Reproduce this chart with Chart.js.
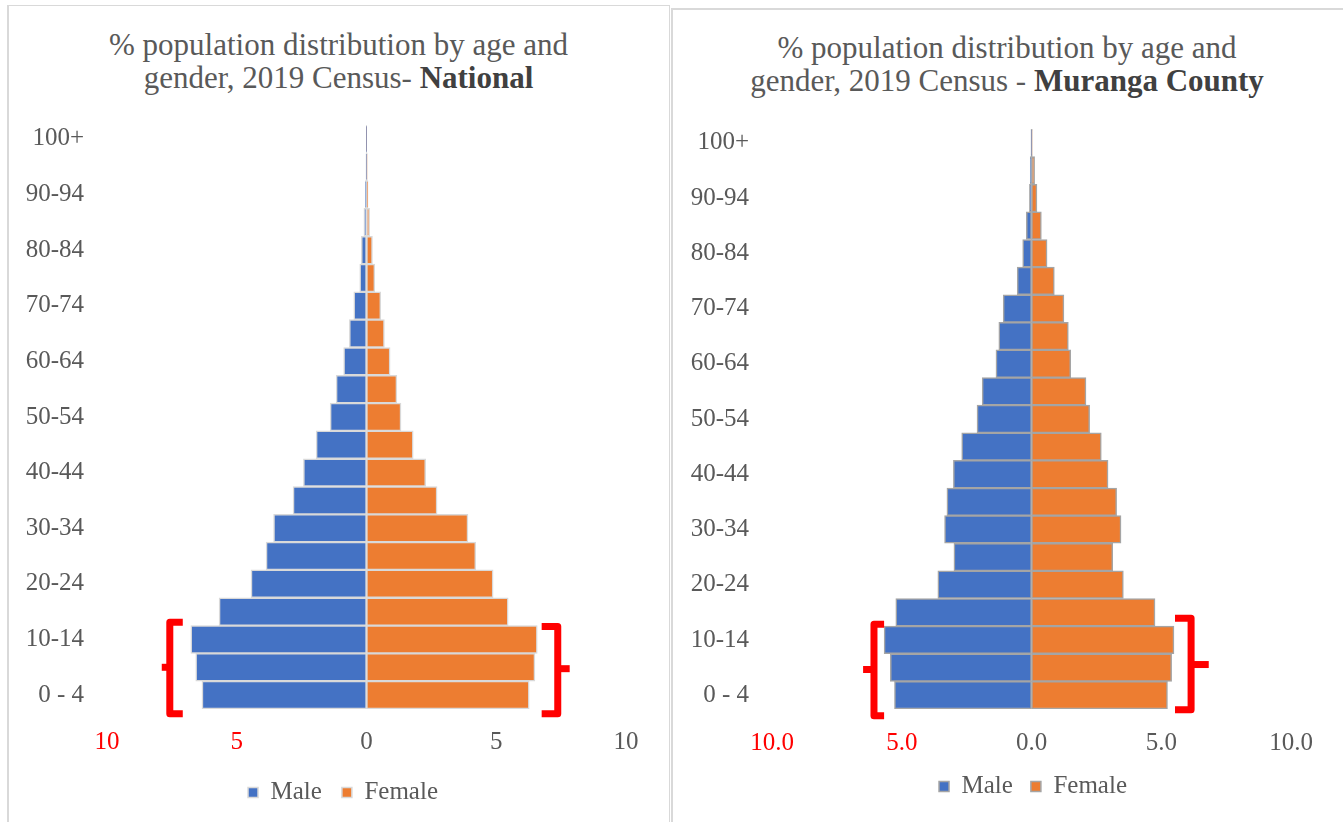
<!DOCTYPE html>
<html lang="en">
<head>
    <meta charset="UTF-8">
    <title>Population distribution by age and gender, 2019 Census</title>
    <script src="https://cdn.jsdelivr.net/npm/chart.js"></script>
    <style>
        body { margin: 0; background: #fff; width: 1343px; height: 822px; overflow: hidden; position: relative; font-family: 'Liberation Serif', serif; }
        .panel { position: absolute; box-sizing: border-box; border-style: solid; border-color: #d9d9d9; background: #fff; }
        #panelL { left: 7px; top: 5px; width: 663px; height: 840px; border-width: 1px 1px 0 2px; }
        #panelR { left: 671px; top: 8px; width: 690px; height: 840px; border-width: 2px 0 0 2px; }
        .title { position: absolute; text-align: center; color: #595959; font-size: 31px; line-height: 33px; }
        .title b { color: #404040; }
        .wrap { position: absolute; }
    </style>
</head>
<body>
    <div class="panel" id="panelL"></div>
    <div class="panel" id="panelR"></div>

    <div class="title" style="left:7px; width:663px; top:28px;">% population distribution by age and<br>gender, 2019 Census- <b>National</b></div>
    <div class="title" style="left:671px; width:672px; top:31px;">% population distribution by age and<br>gender, 2019 Census - <b>Muranga County</b></div>

    <!-- canvases run a bit wider than the panels so the legends sit where they do in the original -->
    <div class="wrap" style="left:8px; top:110px; width:670px; height:722px;"><canvas id="nationalChart"></canvas></div>
    <div class="wrap" style="left:672px; top:110px; width:722px; height:722px;"><canvas id="murangaChart"></canvas></div>

    <script>
        // age groups, bottom (youngest) to top
        const ageGroups = ['0 - 4', '5-9', '10-14', '15-19', '20-24', '25-29', '30-34', '35-39', '40-44', '45-49',
            '50-54', '55-59', '60-64', '65-69', '70-74', '75-79', '80-84', '85-89', '90-94', '95-99', '100+'];

        // National, % of population
        const nationalMale   = [6.34, 6.58, 6.77, 5.68, 4.45, 3.87, 3.58, 2.83, 2.43, 1.94, 1.40, 1.17, 0.88, 0.66, 0.49, 0.26, 0.20, 0.10, 0.05, 0.02, 0.01];
        const nationalFemale = [6.27, 6.49, 6.58, 5.46, 4.88, 4.21, 3.91, 2.72, 2.28, 1.80, 1.33, 1.17, 0.91, 0.69, 0.55, 0.32, 0.23, 0.12, 0.06, 0.03, 0.01];

        // Muranga County, % of population
        const murangaMale   = [5.28, 5.44, 5.68, 5.23, 3.61, 2.99, 3.35, 3.26, 3.01, 2.69, 2.10, 1.90, 1.37, 1.26, 1.09, 0.55, 0.34, 0.20, 0.08, 0.05, 0.02];
        const murangaFemale = [5.24, 5.40, 5.49, 4.76, 3.54, 3.13, 3.45, 3.28, 2.95, 2.69, 2.24, 2.10, 1.51, 1.42, 1.25, 0.88, 0.60, 0.38, 0.21, 0.12, 0.03];

        const xTicks = [-10, -5, 0, 5, 10];

        const FONT = "'Liberation Serif', serif";
        const GREY = '#595959';

        // red brackets around the 0-14 groups (x in axis units, y in category index)
        const bracePlugin = {
            id: 'braces',
            afterDatasetsDraw(chart, args, opts) {
                const xs = chart.scales.x, ys = chart.scales.y, ctx = chart.ctx;
                ctx.save();
                ctx.strokeStyle = '#ff0000';
                ctx.lineWidth = 7;
                ctx.lineJoin = 'round';
                opts.list.forEach(b => {
                    const vx = xs.getPixelForValue(b.x);
                    const hx = xs.getPixelForValue(b.hook);
                    const nx = xs.getPixelForValue(b.nub);
                    const top = ys.getPixelForValue(b.top);
                    const bottom = ys.getPixelForValue(b.bottom);
                    const mid = ys.getPixelForValue(b.mid);
                    ctx.beginPath();
                    ctx.moveTo(hx, top);
                    ctx.lineTo(vx, top);
                    ctx.lineTo(vx, bottom);
                    ctx.lineTo(hx, bottom);
                    ctx.stroke();
                    ctx.beginPath();
                    ctx.moveTo(vx, mid);
                    ctx.lineTo(nx, mid);
                    ctx.stroke();
                });
                ctx.restore();
            }
        };

        function makePyramid(id, male, female, cfg) {
            return new Chart(document.getElementById(id), {
                type: 'bar',
                data: {
                    labels: ageGroups,
                    datasets: [
                        { label: 'Male', data: male.map(v => -v), backgroundColor: '#4472c4', borderColor: cfg.edge, borderWidth: 1.5, borderSkipped: false },
                        { label: 'Female', data: female, backgroundColor: '#ed7d31', borderColor: cfg.edge, borderWidth: 1.5, borderSkipped: false }
                    ]
                },
                options: {
                    indexAxis: 'y',
                    responsive: true,
                    maintainAspectRatio: false,
                    animation: false,
                    layout: { padding: { top: cfg.top, right: 0, bottom: cfg.bottom, left: 0 } },
                    datasets: { bar: { barPercentage: 1, categoryPercentage: 1 } },
                    scales: {
                        x: {
                            stacked: true,
                            min: -10, max: 10,
                            afterBuildTicks: s => { s.ticks = xTicks.map(v => ({ value: v })); },
                            afterFit: s => { s.height = cfg.xHeight; s.paddingLeft = 0; s.paddingRight = cfg.right; },
                            grid: { display: false, drawTicks: false },
                            border: { display: false },
                            ticks: {
                                padding: cfg.xPad,
                                font: { family: FONT, size: 25 },
                                color: c => (c.tick && c.tick.value < 0) ? '#ff0000' : GREY,
                                callback: v => cfg.decimals ? Math.abs(v).toFixed(1) : Math.abs(v)
                            }
                        },
                        y: {
                            stacked: true,
                            reverse: true,
                            afterFit: s => { s.width = cfg.left; s.paddingTop = 0; s.paddingBottom = 0; },
                            grid: { display: false, drawTicks: false },
                            border: { display: false },
                            ticks: {
                                autoSkip: false,
                                padding: 23,
                                font: { family: FONT, size: 25 },
                                color: GREY,
                                callback: (v, i) => i % 2 === 0 ? ageGroups[i] : ''
                            }
                        }
                    },
                    plugins: {
                        tooltip: { enabled: false },
                        legend: {
                            position: 'bottom',
                            labels: { boxWidth: 10, boxHeight: 10, padding: cfg.legendPad, color: GREY, font: { family: FONT, size: 25 } }
                        },
                        braces: { list: cfg.braces }
                    }
                },
                plugins: [bracePlugin]
            });
        }

        makePyramid('nationalChart', nationalMale, nationalFemale, {
            edge: '#d9d9d9', left: 99, right: 52, top: 15, bottom: 17, xHeight: 51, xPad: 18, legendPad: 20, decimals: false,
            braces: [
                { x: -7.58, hook: -7.08, nub: -7.89, top: 2.62, bottom: -0.67, mid: 1.0 },
                { x: 7.37, hook: 6.75, nub: 7.83, top: 2.47, bottom: -0.67, mid: 0.95 }
            ]
        });

        makePyramid('murangaChart', murangaMale, murangaFemale, {
            edge: '#a5a5a5', left: 100, right: 103, top: 19, bottom: 23, xHeight: 47, xPad: 19, legendPad: 18, decimals: true,
            braces: [
                { x: -6.07, hook: -5.68, nub: -6.49, top: 2.57, bottom: -0.74, mid: 0.93 },
                { x: 6.15, hook: 5.53, nub: 6.83, top: 2.79, bottom: -0.53, mid: 1.11 }
            ]
        });
    </script>
</body>
</html>
